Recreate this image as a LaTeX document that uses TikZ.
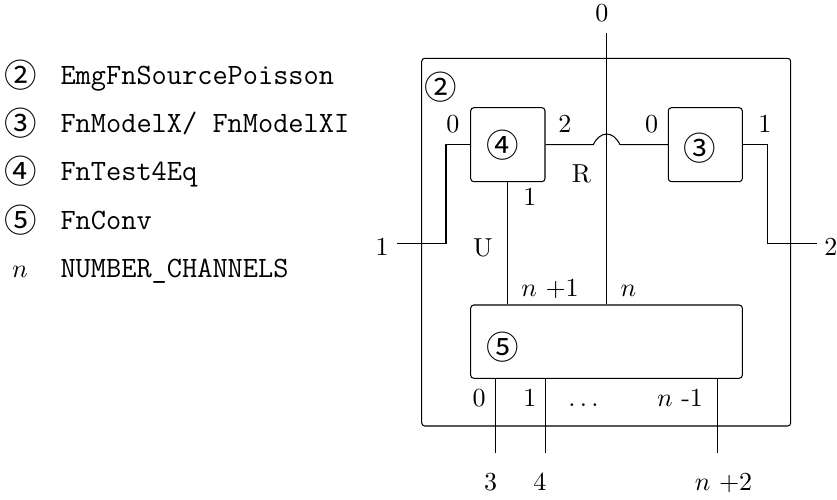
\documentclass[tikz,border=0pt]{standalone}
\usepackage{fontspec}
\newfontfamily\circfont{Noto Sans CJK JP}
\def\pxu{0.3846pt}
\begin{document}
\begin{tikzpicture}[x=0.3846pt,y=-0.3846pt,
  box/.style={draw, rounded corners=1.2pt, inner sep=0pt},
  wire/.style={draw, line width=0.4pt},
  lab/.style={inner sep=0pt, anchor=base, font=\fontsize{10}{12}\selectfont},
  circ/.style={inner sep=0pt, font=\circfont\fontsize{12.5}{14}\selectfont},
  mono/.style={inner sep=0pt, anchor=base west, font=\ttfamily\fontsize{11.35}{13}\selectfont}]
\useasboundingbox (0,0) rectangle (837,499);

% legend
\node[circ] (l2) at (20.5,75) {②};
\node[circ] (l3) at (20.5,123) {③};
\node[circ] (l4) at (20.5,171) {④};
\node[circ] (l5) at (20.5,220) {⑤};
\node[lab] (ln) at (20,277) {$n$};
\node[mono] (t2) at (60,84) {EmgFnSourcePoisson};
\node[mono] (t3) at (60,132) {FnModelX/ FnModelXI};
\node[mono] (t4) at (60,180) {FnTest4Eq};
\node[mono] (t5) at (60,229) {FnConv};
\node[mono] (tn) at (60,277) {NUMBER{\char95}CHANNELS};

% boxes
\node[box, minimum width=369*\pxu, minimum height=367.7*\pxu] (outer) at (606.2,242.15) {};
\node[box, minimum width=74.3*\pxu, minimum height=74*\pxu] (b4) at (507.85,144.7) {};
\node[box, minimum width=74*\pxu, minimum height=74*\pxu] (b3) at (705.3,144.7) {};
\node[box, minimum width=271.6*\pxu, minimum height=73.3*\pxu] (b5) at (606.5,341.65) {};

\node[circ] (c2) at (441,87) {②};
\node[circ] (c4) at (503,145) {④};
\node[circ] (c3) at (700,148) {③};
\node[circ] (c5) at (503,347) {⑤};

% free ends
\coordinate (in0) at (606.7,33.3);
\coordinate (in1) at (396.7,243.3);
\coordinate (out2) at (816.7,243.3);
\coordinate (out3) at (495.7,453);
\coordinate (out4) at (545.3,453);
\coordinate (outn) at (717.3,453);

% wires
\draw[wire] (in1) -- (446,243.3) |- (b4.west);
\draw[wire] (b3.east) -| (767.3,243.3) -- (out2);
\draw[wire] (b4.east) -- (593.3,144.7) .. controls (600,130.5) and (613.4,130.5) .. (620,144.7) -- (b3.west);
\draw[wire] (in0) -- (in0 |- b5.north);
\draw[wire] (b4.south) -- (b4.south |- b5.north);
\draw[wire] (out3 |- b5.south) -- (out3);
\draw[wire] (out4 |- b5.south) -- (out4);
\draw[wire] (outn |- b5.south) -- (outn);

% port labels
\node[lab] (p0top) at (602,21.2) {0};
\node[lab] (p40) at (453,132.4) {0};
\node[lab] (p42) at (565,132.4) {2};
\node[lab] (p30) at (651.7,132.4) {0};
\node[lab] (p31) at (765,132.4) {1};
\node[lab] (pR) at (581.5,182.9) {R};
\node[lab] (p41) at (530,205.9) {1};
\node[lab] (pU) at (483,256.4) {U};
\node[lab] (pin1) at (382,255.9) {1};
\node[lab] (pout2) at (831,255.9) {2};
\node[lab] (p5n1) at (550,296) {$n$ +1};
\node[lab] (p5n) at (628.5,296) {$n$};
\node[lab] (p50) at (479,406) {0};
\node[lab] (p51) at (530,406) {1};
\node[lab] (p5d) at (583.5,406) {$\ldots$};
\node[lab] (p5m) at (680,406) {$n$ -1};
\node[lab] (po3) at (490.7,490) {3};
\node[lab] (po4) at (540,490) {4};
\node[lab] (pon) at (723.5,490) {$n$ +2};
\end{tikzpicture}
\end{document}
